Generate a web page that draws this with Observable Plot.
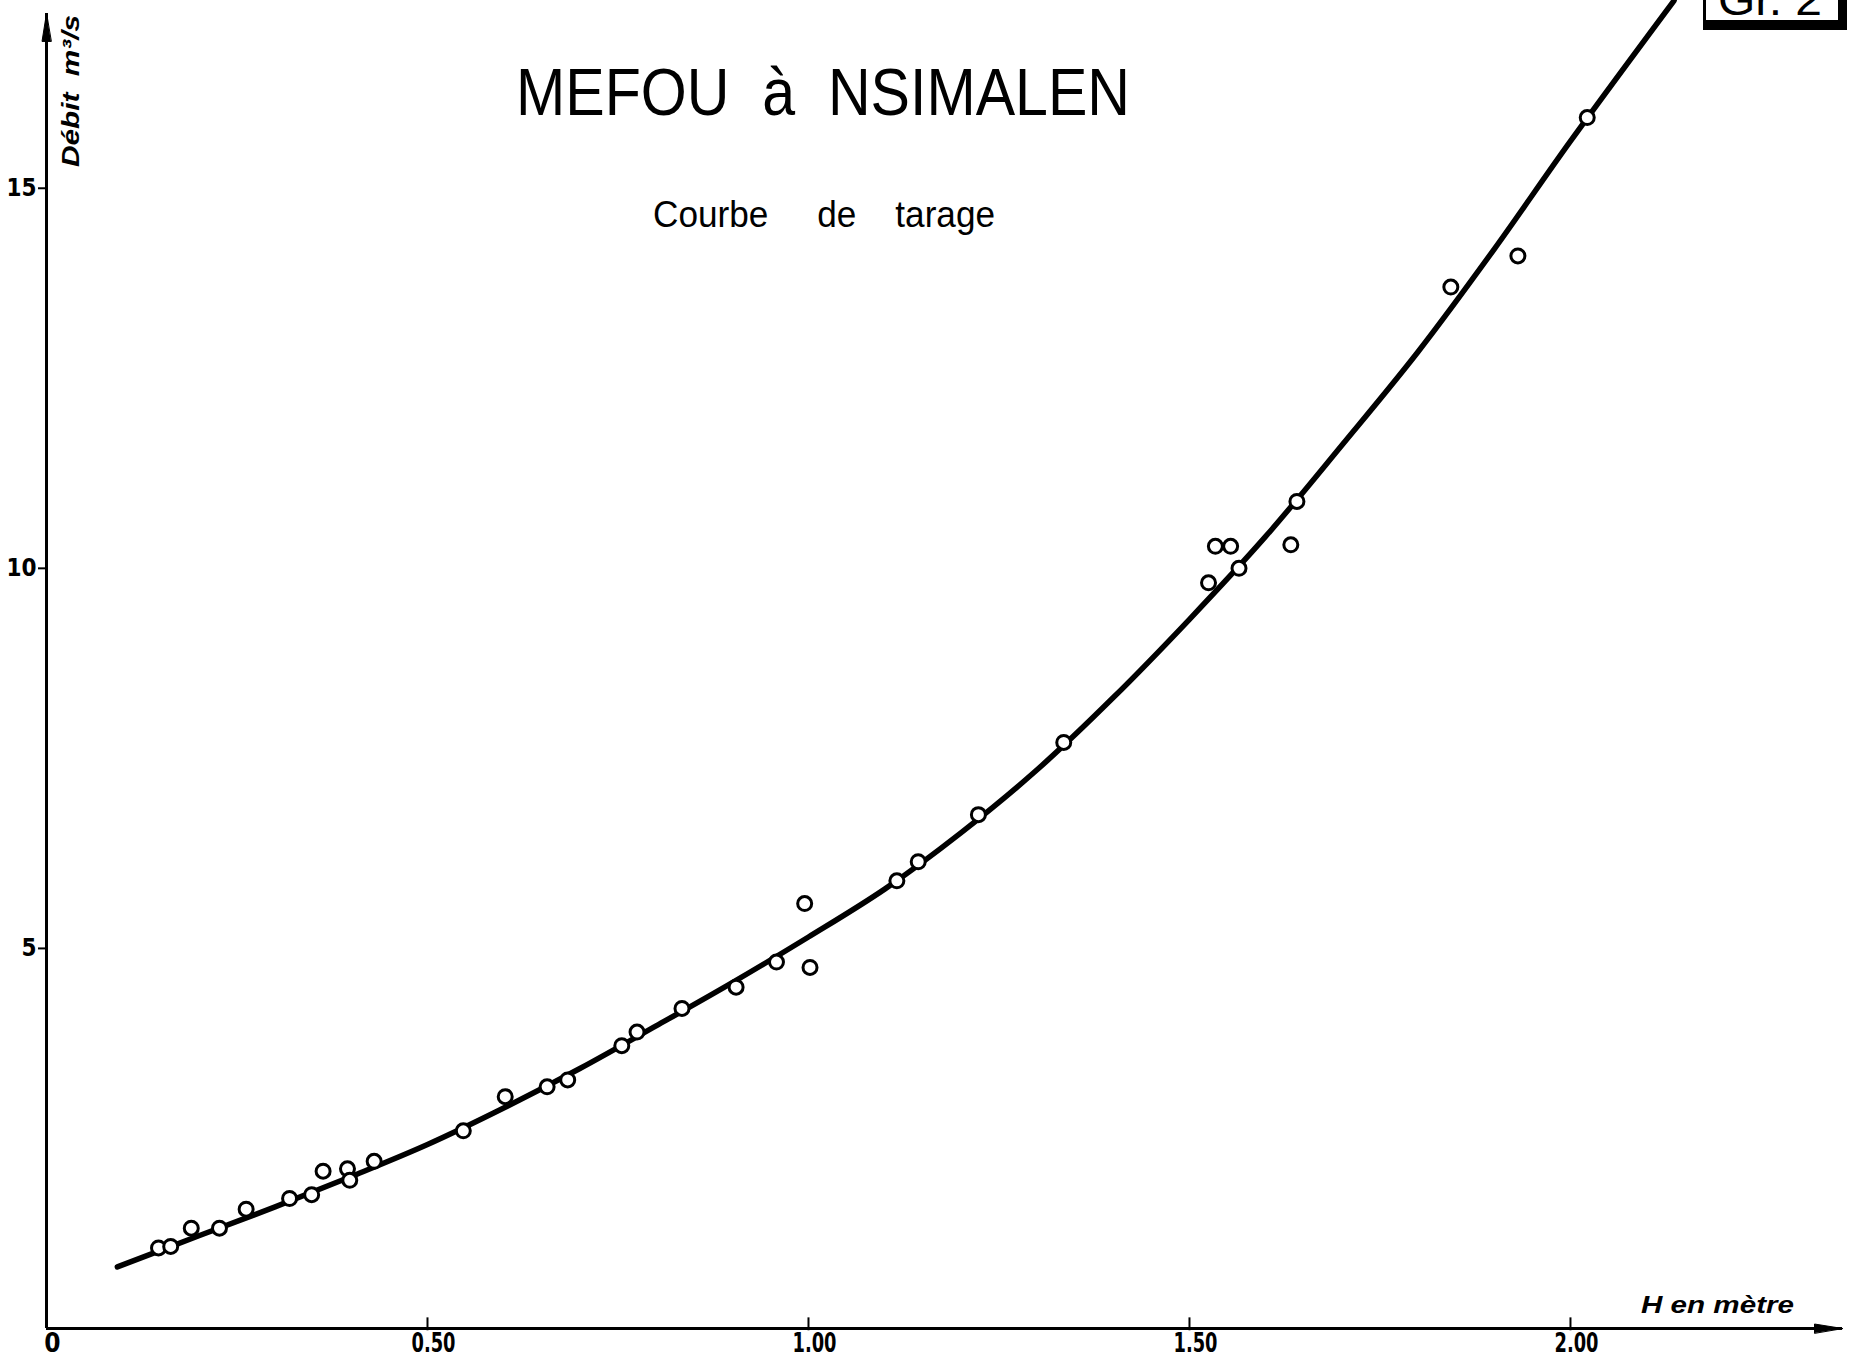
<!DOCTYPE html>
<html><head><meta charset="utf-8">
<script src="https://cdn.jsdelivr.net/npm/d3@7"></script>
<script src="https://cdn.jsdelivr.net/npm/@observablehq/plot@0.6"></script>
<style>
html,body{margin:0;padding:0;background:#fff;}
#wrap{position:relative;width:1851px;height:1362px;overflow:hidden;background:#fff;}
</style></head><body><div id="wrap"></div>
<script>
// Observed gaugings: H (m) and discharge Q (m3/s)
const hauteur = [0.147,0.163,0.190,0.227,0.262,0.319,0.348,0.363,0.395,0.398,0.430,0.547,0.602,0.657,0.684,0.755,0.775,0.834,0.905,0.958,0.995,1.002,1.116,1.144,1.223,1.335,1.525,1.534,1.554,1.565,1.633,1.641,1.843,1.931,2.022];
const debit   = [1.06,1.08,1.32,1.32,1.57,1.71,1.76,2.07,2.10,1.95,2.20,2.60,3.05,3.18,3.27,3.72,3.90,4.21,4.49,4.82,5.59,4.75,5.89,6.14,6.76,7.71,9.81,10.29,10.29,10.00,10.31,10.88,13.70,14.11,15.93];
// Rating curve
const courbeH = [0.093,0.20,0.30,0.40,0.50,0.60,0.70,0.80,0.90,1.00,1.10,1.20,1.30,1.40,1.50,1.60,1.70,1.80,1.90,2.00,2.136];
const courbeQ = [0.81,1.22,1.60,2.00,2.42,2.90,3.42,3.98,4.55,5.15,5.78,6.52,7.35,8.30,9.33,10.42,11.62,12.85,14.20,15.62,17.47];
const xTicks = [0,0.5,1,1.5,2];
const xTickLabels = ["0","0.50","1.00","1.50","2.00"];
const yTicks = [5,10,15];
const yTickLabels = ["5","10","15"];
const xMax = 2.357, yMax = 17.47, yAxisTop = 17.30;

const obs = hauteur.map((h,i)=>({h, q: debit[i]}));
const courbe = courbeH.map((h,i)=>({h, q: courbeQ[i]}));

const head = {draw(ctx, l){ ctx.moveTo(0,-l); ctx.lineTo(-4.5,0); ctx.lineTo(4.5,0); ctx.closePath(); }};
const labFont = "'Liberation Sans Narrow','DejaVu Sans Condensed','Liberation Sans',sans-serif";

const chart = Plot.plot({
  width: 1851, height: 1362,
  marginLeft: 46, marginRight: 9, marginTop: 0, marginBottom: 34,
  style: {background: "#fff", color: "#000", fontFamily: labFont},
  x: {domain: [0, xMax], axis: null},
  y: {domain: [0, yMax], axis: null},
  marks: [
    Plot.ruleY([0], {x1: 0, x2: xMax, stroke: "#000", strokeWidth: 3}),
    Plot.ruleX([0], {y1: 0, y2: yAxisTop, stroke: "#000", strokeWidth: 3}),
    Plot.vector([{x: xMax, y: 0}], {x: "x", y: "y", length: 28, rotate: 90, anchor: "end", shape: head, fill: "#000", stroke: "#000", strokeWidth: 1}),
    Plot.vector([{x: 0, y: yAxisTop}], {x: "x", y: "y", length: 28, rotate: 0, anchor: "end", shape: head, fill: "#000", stroke: "#000", strokeWidth: 1}),
    Plot.ruleX(xTicks.slice(1), {y1: -0.03, y2: 0.14, stroke: "#000", strokeWidth: 2}),
    Plot.axisX(xTicks, {tickSize: 0, tickPadding: 5, dx: 6, tickFormat: (d,i)=>xTickLabels[i], fontSize: 26, fontWeight: "bold", fontFamily: labFont, ariaLabel: "x-axis"}),
    Plot.axisY(yTicks, {tickSize: 8, tickPadding: 2, strokeWidth: 2, tickFormat: (d,i)=>yTickLabels[i], fontSize: 24, fontWeight: "bold", fontFamily: labFont}),
    Plot.line(courbe, {x: "h", y: "q", curve: "catmull-rom", stroke: "#000", strokeWidth: 5.5, clip: true}),
    Plot.dot(obs, {x: "h", y: "q", r: 7, stroke: "#000", strokeWidth: 3, fill: "#fff"})
  ]
});
document.getElementById("wrap").appendChild(chart);

// Narrow the x tick labels like the hand lettering
d3.select(chart).selectAll("g[aria-label='x-axis tick label'] text").each(function(){
  const s = this.textContent;
  if (s.length > 1) { this.setAttribute("textLength", 44); this.setAttribute("lengthAdjust", "spacingAndGlyphs"); }
});

// Annotations
const svg = d3.select(chart);
const t = (x, y, s, size, len, opts={}) => {
  const el = svg.append("text").attr("x", x).attr("y", y).text(s)
    .attr("text-anchor", "start")
    .attr("font-size", size).attr("fill", "#000")
    .attr("font-family", opts.family || "'Liberation Sans','DejaVu Sans',sans-serif")
    .attr("font-weight", opts.weight || "normal")
    .attr("font-style", opts.style || "normal");
  if (len) el.attr("textLength", len).attr("lengthAdjust", "spacingAndGlyphs");
  if (opts.transform) el.attr("transform", opts.transform);
  return el;
};
const nb = "\u00a0";
// Title
t(516, 115, "MEFOU" + nb + nb + "à" + nb + nb + "NSIMALEN", 66, 614);
// Subtitle
t(653, 227, "Courbe" + nb.repeat(5) + "de" + nb.repeat(4) + "tarage", 36, 342);
// Y label (rotated)
t(0, 0, "Débit" + nb + nb + "m³/s", 24, 152, {weight: "bold", style: "italic", transform: "translate(79,167) rotate(-90)"});
// X label
t(1641, 1313, "H en mètre", 24, 153, {weight: "bold", style: "italic"});
// Figure tag box "Gr. 2"
svg.append("rect").attr("x", 1703).attr("y", -20).attr("width", 144).attr("height", 50).attr("fill", "#000");
svg.append("rect").attr("x", 1706).attr("y", -20).attr("width", 132).attr("height", 40).attr("fill", "#fff");
t(1718, 15, "Gr. 2", 44, 104);
</script>
</body></html>
